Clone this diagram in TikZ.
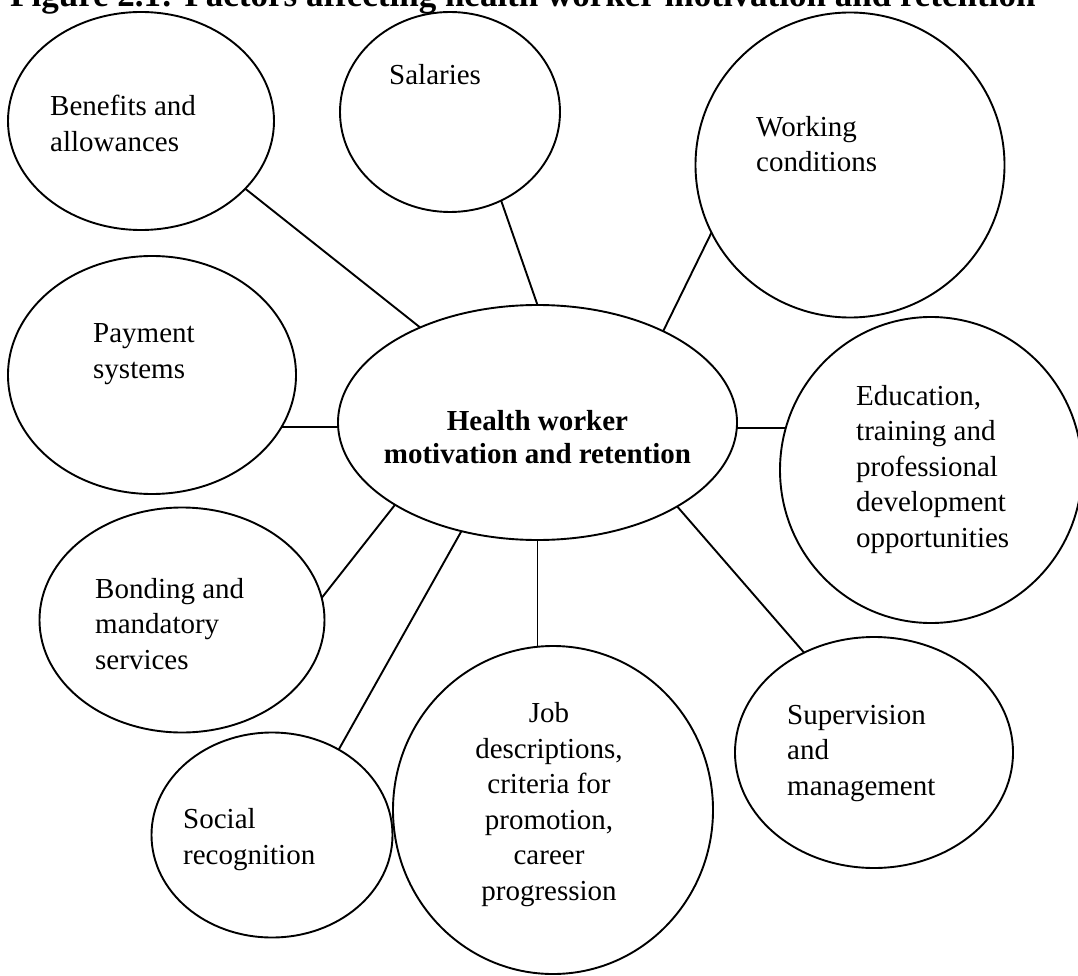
\documentclass[tikz,border=0pt]{standalone}
\usepackage{fontspec}
\setmainfont{Liberation Serif}
\usetikzlibrary{shapes.geometric}
\usetikzlibrary{calc}
\tikzset{
    % Plain outline used for every factor bubble
    bubble/.style={
        draw, ellipse, line width=1.9pt, inner sep=0pt, outer sep=0pt},
%
    % Wording set inside a bubble, placed by the baseline of its last line
    bubble text/.style={
        anchor=base west, align=left, inner sep=0pt,
        font=\fontsize{29pt}{35.5pt}\selectfont},
%
    % Straight spoke joining a factor to the centre
    spoke/.style={line width=1.9pt}}

\begin{document}
\begin{tikzpicture}[x=1pt, y=-1pt]
\useasboundingbox (0,0) rectangle (1078,976);

% Heading, running off the top edge
\node [anchor=base west, inner sep=0pt,
    font=\bfseries\fontsize{35pt}{40pt}\selectfont]
    (heading) at (10,7)
    {Figure 2.1: Factors affecting health worker motivation and retention};

% Central bubble
\node [bubble, minimum width=399pt, minimum height=235pt]
    (health) at (537.5,422.5) {};
\node [anchor=base, align=center, inner sep=0pt,
    font=\bfseries\fontsize{29pt}{33pt}\selectfont]
    (health text) at ($(health)+(0,40.5)$)
    {Health worker\\motivation and retention};

% Top row
\node [bubble, minimum width=266pt, minimum height=218pt]
    (benefits) at (141,121) {};
\node [bubble text] (benefits text) at ($(benefits)+(-91,30.5)$)
    {Benefits and\\allowances};

\node [bubble, minimum width=220pt, minimum height=200pt]
    (salaries) at (450,112) {};
\node [bubble text] (salaries text) at ($(salaries)+(-61,-27)$) {Salaries};

\node [bubble, minimum width=309pt, minimum height=305pt]
    (working) at (850,165) {};
\node [bubble text] (working text) at ($(working)+(-94,7)$)
    {Working\\conditions};

% Left and right of the centre
\node [bubble, minimum width=288pt, minimum height=238pt]
    (payment) at (152,375) {};
\node [bubble text] (payment text) at ($(payment)+(-59,3)$)
    {Payment\\systems};

\node [bubble, minimum width=302pt, minimum height=306pt]
    (education) at (931,470) {};
\node [bubble text] (education text) at ($(education)+(-75,77)$)
    {Education,\\training and\\professional\\development\\opportunities};

% Bottom row
\node [bubble, minimum width=285pt, minimum height=225pt]
    (bonding) at (182,620) {};
\node [bubble text] (bonding text) at ($(bonding)+(-87,49)$)
    {Bonding and\\mandatory\\services};

\node [bubble, minimum width=241pt, minimum height=205pt]
    (social) at (272,835) {};
\node [bubble text] (social text) at ($(social)+(-89,29)$)
    {Social\\recognition};

\node [bubble, minimum width=320pt, minimum height=328pt]
    (job) at (553,810) {};
\node [bubble text, anchor=base, align=center] (job text)
    at ($(job)+(-4,90)$)
    {Job\\descriptions,\\criteria for\\promotion,\\career\\progression};

\node [bubble, minimum width=278pt, minimum height=231pt]
    (supervision) at (874,752.5) {};
\node [bubble text] (supervision text) at ($(supervision)+(-87,42.5)$)
    {Supervision\\and\\management};

% Spokes
\draw [spoke] (benefits.-33) -- (health.141);
\draw [spoke] (salaries.-60) -- (health.north);
\draw [spoke] (working.-154.6) -- (health.36);
\draw [spoke] (payment.-22) -- (payment.-22 -| health.west);
\draw [spoke] (health.east |- education.164) -- (education.164);
\draw [spoke] (bonding.9) -- (health.-150);
\draw [spoke] (social.52) -- (health.-125);
\draw [spoke] (health.south) -- (health.south |- job.north);
\draw [spoke] (health.-31) -- (supervision.125);

\end{tikzpicture}
\end{document}
